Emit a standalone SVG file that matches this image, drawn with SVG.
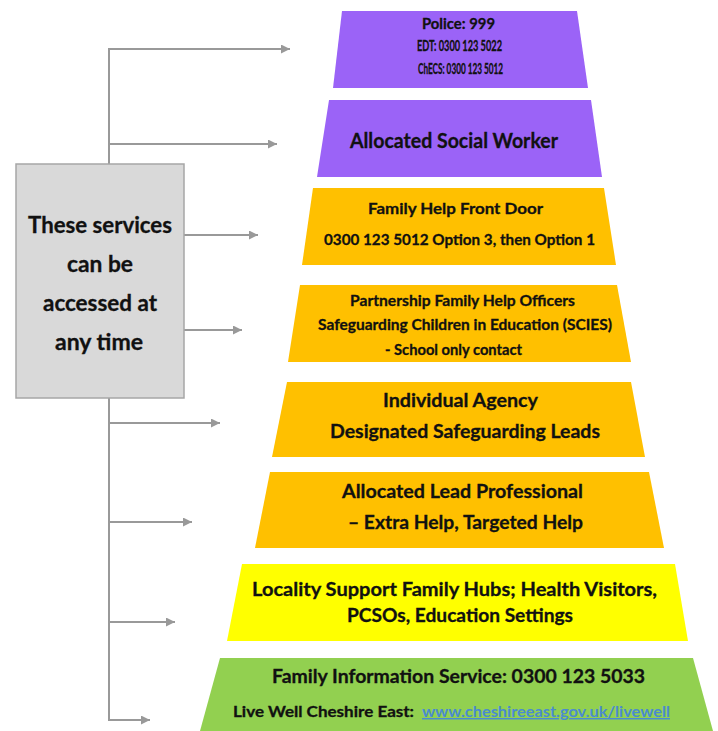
<svg xmlns="http://www.w3.org/2000/svg" width="718" height="731" viewBox="0 0 718 731">
<defs>
<style>
.t{font-family:"Lato","Open Sans","Liberation Sans",sans-serif;font-weight:700;fill:#111;text-anchor:start;stroke:#111;stroke-width:0.3}
.c{stroke:#999;stroke-width:2;fill:none}
.purple{fill:#9B63F7}
.orange{fill:#FFC000}
.yellow{fill:#FFFF00}
.green{fill:#92D050}
.link{fill:#4A8BD0;stroke:none;text-decoration:underline}
</style>
<marker id="ah" viewBox="0 0 10 10" refX="10" refY="5" markerWidth="9" markerHeight="9" markerUnits="userSpaceOnUse" orient="auto">
<path d="M0,0 L10,5 L0,10 z" fill="#999"/>
</marker>
</defs>
<rect width="718" height="731" fill="#fff"/>

<g id="connectors">
<path class="c" d="M109,164 V49 H290" marker-end="url(#ah)"/>
<path class="c" d="M109,144 H277" marker-end="url(#ah)"/>
<path class="c" d="M184,235 H258" marker-end="url(#ah)"/>
<path class="c" d="M184,330 H242" marker-end="url(#ah)"/>
<path class="c" d="M109,398 V720 H150" marker-end="url(#ah)"/>
<path class="c" d="M109,423 H220" marker-end="url(#ah)"/>
<path class="c" d="M109,522 H192" marker-end="url(#ah)"/>
<path class="c" d="M109,622 H175" marker-end="url(#ah)"/>
</g>

<g id="box">
<rect x="16" y="164" width="168" height="234" fill="#D9D9D9" stroke="#A6A6A6" stroke-width="1.5"/>
<text class="t" x="28" y="233" font-size="22" textLength="144" lengthAdjust="spacingAndGlyphs">These services</text>
<text class="t" x="67" y="272" font-size="22" textLength="66" lengthAdjust="spacingAndGlyphs">can be</text>
<text class="t" x="43" y="311" font-size="22" textLength="114" lengthAdjust="spacingAndGlyphs">accessed at</text>
<text class="t" x="55" y="350" font-size="22" textLength="88" lengthAdjust="spacingAndGlyphs">any time</text>
</g>

<g id="b1">
<polygon class="purple" points="342,11 577,11 588,88 333,88"/>
<text class="t" x="422" y="29" font-size="14.5" textLength="73" lengthAdjust="spacingAndGlyphs">Police: 999</text>
<text class="t" x="417" y="51" font-size="14.5" textLength="85" lengthAdjust="spacingAndGlyphs">EDT: 0300 123 5022</text>
<text class="t" x="418" y="74" font-size="14.5" textLength="85" lengthAdjust="spacingAndGlyphs">ChECS: 0300 123 5012</text>
</g>

<g id="b2">
<polygon class="purple" points="329,100 591,100 602,177 317,177"/>
<text class="t" x="350" y="148" font-size="20" textLength="208" lengthAdjust="spacingAndGlyphs">Allocated Social Worker</text>
</g>

<g id="b3">
<polygon class="orange" points="313,188 604,188 616,265 302,265"/>
<text class="t" x="368" y="214" font-size="16" textLength="175" lengthAdjust="spacingAndGlyphs">Family Help Front Door</text>
<text class="t" x="324" y="245" font-size="16" textLength="271" lengthAdjust="spacingAndGlyphs">0300 123 5012 Option 3, then Option 1</text>
</g>

<g id="b4">
<polygon class="orange" points="300,285 617,285 631,362 288,362"/>
<text class="t" x="350" y="306" font-size="15" textLength="225" lengthAdjust="spacingAndGlyphs">Partnership Family Help Officers</text>
<text class="t" x="318" y="330" font-size="15" textLength="294" lengthAdjust="spacingAndGlyphs">Safeguarding Children in Education (SCIES)</text>
<text class="t" x="385" y="355" font-size="15" textLength="137" lengthAdjust="spacingAndGlyphs">- School only contact</text>
</g>

<g id="b5">
<polygon class="orange" points="287,382 631,382 645,457 272,457"/>
<text class="t" x="383" y="407" font-size="19" textLength="155" lengthAdjust="spacingAndGlyphs">Individual Agency</text>
<text class="t" x="330" y="438" font-size="19" textLength="270" lengthAdjust="spacingAndGlyphs">Designated Safeguarding Leads</text>
</g>

<g id="b6">
<polygon class="orange" points="270,472 649,472 664,548 255,548"/>
<text class="t" x="342" y="498" font-size="19" textLength="241" lengthAdjust="spacingAndGlyphs">Allocated Lead Professional</text>
<text class="t" x="348" y="529" font-size="19" textLength="235" lengthAdjust="spacingAndGlyphs">– Extra Help, Targeted Help</text>
</g>

<g id="b7">
<polygon class="yellow" points="242,564 675,564 688,641 227,641"/>
<text class="t" x="252" y="596" font-size="19" textLength="405" lengthAdjust="spacingAndGlyphs">Locality Support Family Hubs; Health Visitors,</text>
<text class="t" x="347" y="622" font-size="19" textLength="226" lengthAdjust="spacingAndGlyphs">PCSOs, Education Settings</text>
</g>

<g id="b8">
<polygon class="green" points="220,658 693,658 713,731 200,731"/>
<text class="t" x="272" y="683" font-size="19" textLength="373" lengthAdjust="spacingAndGlyphs">Family Information Service: 0300 123 5033</text>
<text class="t" x="233" y="717" font-size="14.5" textLength="181" lengthAdjust="spacingAndGlyphs">Live Well Cheshire East:</text>
<text class="t link" x="422" y="717" font-size="14.5" textLength="248" lengthAdjust="spacingAndGlyphs">www.cheshireeast.gov.uk/livewell</text>
</g>
</svg>
